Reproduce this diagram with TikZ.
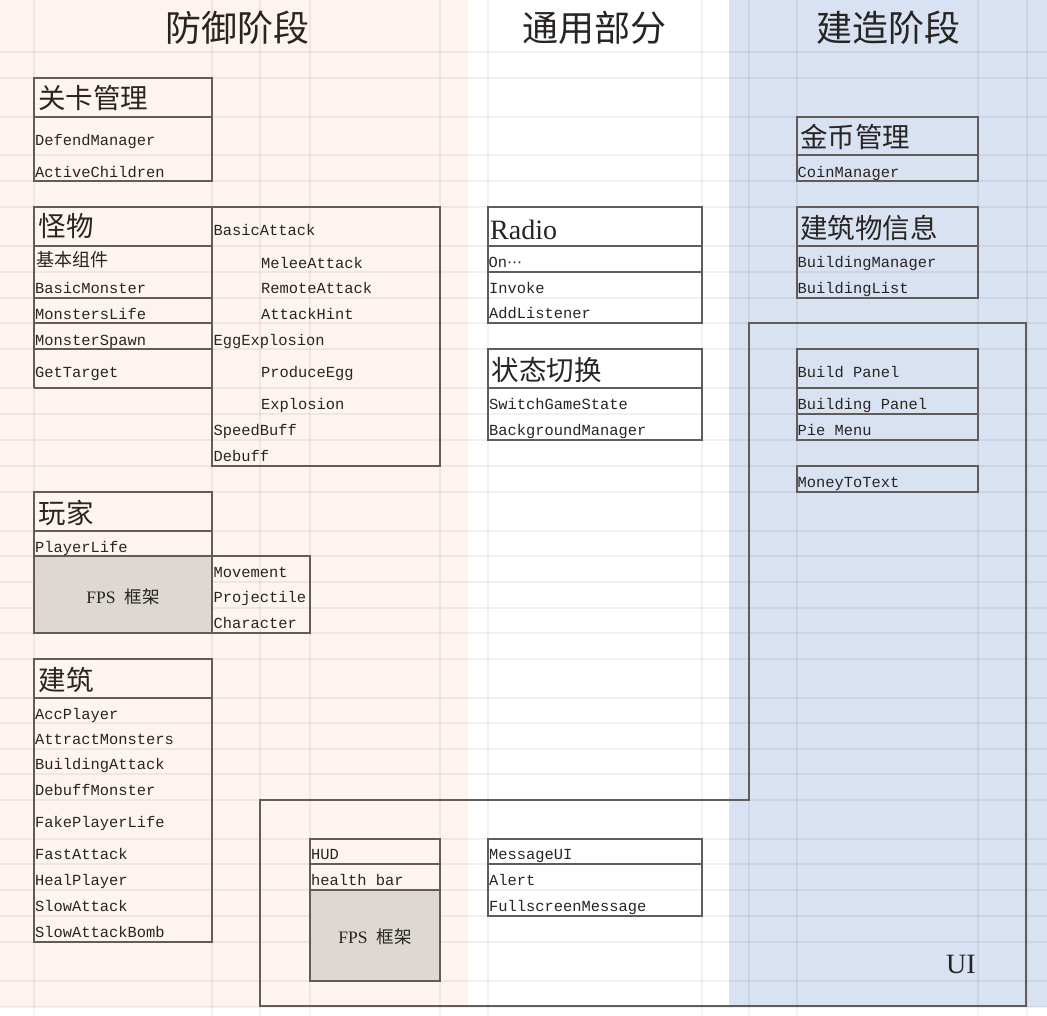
\documentclass[tikz,border=0pt]{standalone}
\usepackage{fontspec}
\setmainfont{Liberation Serif}
\newfontfamily\cjk{Noto Sans CJK SC}
\newfontfamily\monof{Liberation Mono}
\newfontfamily\dvf{DejaVu Sans}
\definecolor{peachbg}{RGB}{253,244,239}
\definecolor{bluebg}{RGB}{217,226,243}
\definecolor{grayfill}{RGB}{222,216,211}
\definecolor{boxc}{RGB}{98,92,88}
\definecolor{txt}{RGB}{40,36,33}
\tikzset{
  gridln/.style={line width=1.3pt, draw=black, draw opacity=0.055},
  box/.style={draw=boxc, line width=1.3pt},
  graybox/.style={draw=boxc, fill=grayfill, line width=1.3pt},
  mtext/.style={anchor=base west, inner sep=0pt, text=txt, font=\monof\fontsize{15.4}{18}\selectfont},
  hdr/.style={anchor=west, inner sep=0pt, text=txt, font=\cjk\fontsize{27.5}{30}\selectfont},
  ttl/.style={anchor=center, inner sep=0pt, text=txt, font=\cjk\fontsize{36}{40}\selectfont},
  smallcjk/.style={anchor=west, inner sep=0pt, text=txt, font=\cjk\fontsize{18}{20}\selectfont},
  fpstext/.style={anchor=center, inner sep=0pt, text=txt, font=\fontsize{17.5}{20}\selectfont},
  bigserif/.style={anchor=base west, inner sep=0pt, text=txt, font=\fontsize{28}{30}\selectfont}
}
\begin{document}
\begin{tikzpicture}[x=1pt,y=-1pt]
\useasboundingbox (0,0) rectangle (1047,1015);
% backgrounds
\fill[white] (0,0) rectangle (1047,1015);
\fill[peachbg] (0,0) rectangle (468,1007);
\fill[bluebg] (729,0) rectangle (1047,1007);
% spreadsheet grid
\foreach \x in {34,212,260,310,440,488,702,749,797,978,1027}
  \draw[gridln] (\x,0) -- (\x,1015);
\foreach \y in {52,78,117,155,181,207,246,272,298,323,349,388,414,440,466,492,531,556,582,608,633,659,698,723,749,774,800,839,864,890,916,942,981,1007}
  \draw[gridln] (0,\y) -- (1047,\y);

% titles
\node[ttl] (t1) at (237.5,28) {防御阶段};
\node[ttl] (t2) at (594,28) {通用部分};
\node[ttl] (t3) at (888,28) {建造阶段};

% ---- 关卡管理
\draw[box] (34,78) rectangle (212,181);
\draw[box] (34,117) -- (212,117);
\node[hdr] (h1) at (38,98.5) {关卡管理};
\node[mtext] (a1) at (35,145) {DefendManager};
\node[mtext] (a2) at (35,177) {ActiveChildren};

% ---- 怪物
\draw[box] (34,207) rectangle (212,246);
\draw[box] (34,246) -- (34,388);
\foreach \y in {298,323,349,388} \draw[box] (34,\y) -- (212,\y);
\draw[box] (212,207) rectangle (440,466);
\node[hdr] (h2) at (38.5,226) {怪物};
\node[smallcjk] (b0) at (36.5,259.5) {基本组件};
\node[mtext] (b1) at (35,293) {BasicMonster};
\node[mtext] (b2) at (35,319) {MonstersLife};
\node[mtext] (b3) at (35,345) {MonsterSpawn};
\node[mtext] (b4) at (35,377) {GetTarget};
\node[mtext] (c1) at (213.5,235) {BasicAttack};
\node[mtext] (c2) at (261,268) {MeleeAttack};
\node[mtext] (c3) at (261,293) {RemoteAttack};
\node[mtext] (c4) at (261,319) {AttackHint};
\node[mtext] (c5) at (213.5,345) {EggExplosion};
\node[mtext] (c6) at (261,377) {ProduceEgg};
\node[mtext] (c7) at (261,409) {Explosion};
\node[mtext] (c8) at (213.5,435) {SpeedBuff};
\node[mtext] (c9) at (213.5,461) {Debuff};

% ---- 玩家
\draw[box] (34,492) rectangle (212,556);
\draw[box] (34,531) -- (212,531);
\draw[graybox] (34,556) rectangle (212,633);
\draw[box] (212,556) rectangle (310,633);
\node[hdr] (h3) at (38.5,512.5) {玩家};
\node[mtext] (d1) at (35,552) {PlayerLife};
\node[fpstext] (d2) at (123,597) {FPS\hspace{9pt}{\cjk 框架}};
\node[mtext] (d3) at (213.5,577) {Movement};
\node[mtext] (d4) at (213.5,602) {Projectile};
\node[mtext] (d5) at (213.5,628) {Character};

% ---- 建筑
\draw[box] (34,659) rectangle (212,942);
\draw[box] (34,698) -- (212,698);
\node[hdr] (h4) at (38.5,679.5) {建筑};
\node[mtext] (e1) at (35,719) {AccPlayer};
\node[mtext] (e2) at (35,744) {AttractMonsters};
\node[mtext] (e3) at (35,769) {BuildingAttack};
\node[mtext] (e4) at (35,795) {DebuffMonster};
\node[mtext] (e5) at (35,827) {FakePlayerLife};
\node[mtext] (e6) at (35,859) {FastAttack};
\node[mtext] (e7) at (35,885) {HealPlayer};
\node[mtext] (e8) at (35,911) {SlowAttack};
\node[mtext] (e9) at (35,937) {SlowAttackBomb};

% ---- UI outline
\draw[box] (260,800) -- (749,800) -- (749,323) -- (1026,323) -- (1026,1006) -- (260,1006) -- cycle;
\node[bigserif] (ui) at (946,973) {UI};

% ---- HUD
\draw[graybox] (310,890) rectangle (440,981);
\draw[box] (310,839) rectangle (440,981);
\draw[box] (310,864) -- (440,864);
\node[mtext] (f1) at (311,859) {HUD};
\node[mtext] (f2) at (311,885) {health bar};
\node[fpstext] (f3) at (375,937) {FPS\hspace{9pt}{\cjk 框架}};

% ---- Radio
\draw[box] (488,207) rectangle (702,323);
\draw[box] (488,246) -- (702,246);
\draw[box] (488,272) -- (702,272);
\node[bigserif] (h5) at (490,239) {Radio};
\node[mtext] (g1) at (488.5,267) {On{\dvf\fontsize{15}{18}\selectfont ⋯}};
\node[mtext] (g2) at (489,293) {Invoke};
\node[mtext] (g3) at (489,318) {AddListener};

% ---- 状态切换
\draw[box] (488,349) rectangle (702,440);
\draw[box] (488,388) -- (702,388);
\node[hdr] (h6) at (491.5,370) {状态切换};
\node[mtext] (g4) at (489,409) {SwitchGameState};
\node[mtext] (g5) at (489,435) {BackgroundManager};

% ---- MessageUI
\draw[box] (488,839) rectangle (702,916);
\draw[box] (488,864) -- (702,864);
\node[mtext] (g6) at (489,859) {MessageUI};
\node[mtext] (g7) at (489,885) {Alert};
\node[mtext] (g8) at (489,911) {FullscreenMessage};

% ---- 金币管理
\draw[box] (797,117) rectangle (978,181);
\draw[box] (797,155) -- (978,155);
\node[hdr] (h7) at (800,137) {金币管理};
\node[mtext] (k1) at (797.5,177) {CoinManager};

% ---- 建筑物信息
\draw[box] (797,207) rectangle (978,298);
\draw[box] (797,246) -- (978,246);
\node[hdr] (h8) at (800,227.5) {建筑物信息};
\node[mtext] (k2) at (797.5,267) {BuildingManager};
\node[mtext] (k3) at (797.5,293) {BuildingList};

% ---- panels
\draw[box] (797,349) rectangle (978,440);
\draw[box] (797,388) -- (978,388);
\draw[box] (797,414) -- (978,414);
\node[mtext] (k4) at (797.5,377) {Build Panel};
\node[mtext] (k5) at (797.5,409) {Building Panel};
\node[mtext] (k6) at (797.5,435) {Pie Menu};
\draw[box] (797,466) rectangle (978,492);
\node[mtext] (k7) at (797.5,487) {MoneyToText};
\end{tikzpicture}
\end{document}
